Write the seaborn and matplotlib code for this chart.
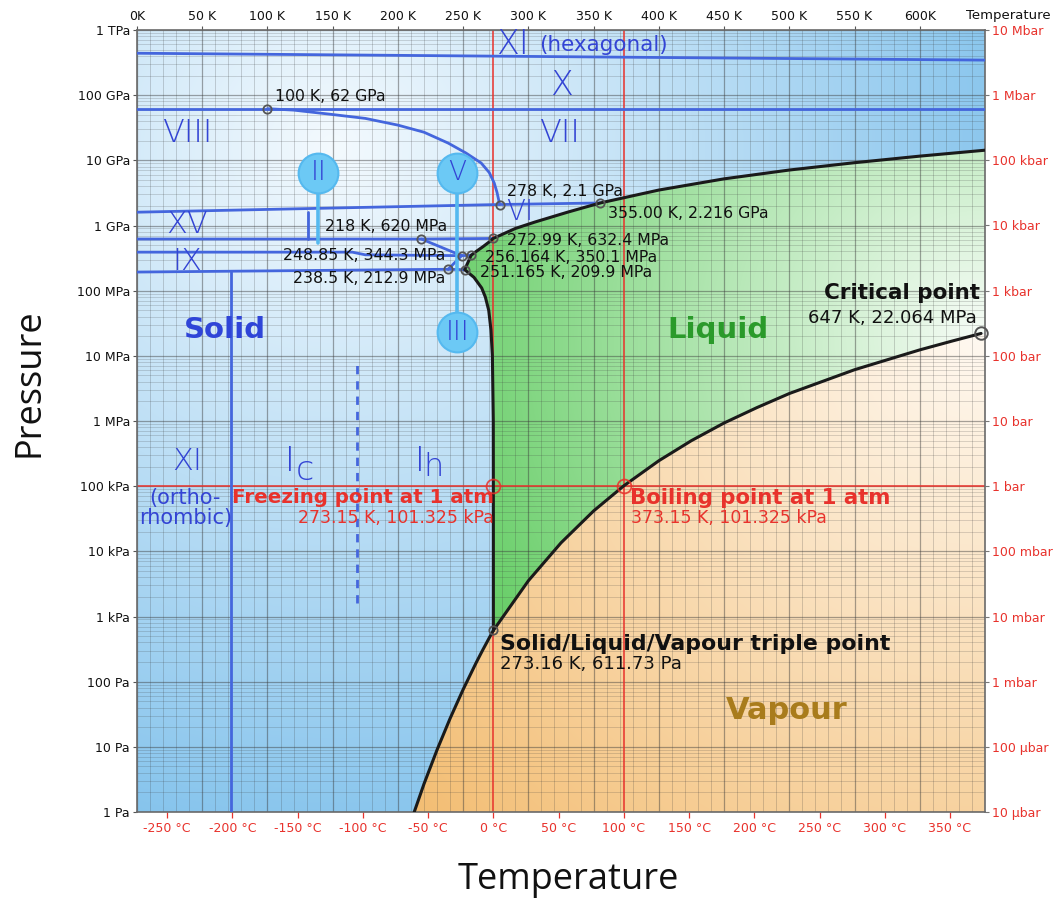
import numpy as np
import matplotlib
matplotlib.use("Agg")
import matplotlib.pyplot as plt
import seaborn as sns
from matplotlib.patches import Polygon
from matplotlib.colors import to_rgb
from matplotlib.ticker import FixedLocator, MultipleLocator, LogLocator, NullLocator

sns.set_theme(style="white")
plt.rcParams["font.family"] = ["DejaVu Sans"]

# ---------------- phase boundaries (temperature in K, pressure in Pa) ----------------
# solid / vapour (sublimation)
sub_T = [212.5, 220, 230, 240, 250, 260, 265, 270, 273.16]
sub_P = [1.0, 2.7, 9.0, 27.3, 76.0, 196, 306, 470, 611.73]

# liquid / vapour (vaporisation) up to the critical point
vap_T = [273.16, 300, 325, 350, 373.15, 400, 425, 450, 475, 500, 550, 600, 625, 647]
vap_P = [611.73, 3537, 13500, 41680, 101325, 245600, 5.0e5, 9.32e5, 1.6e6,
         2.64e6, 6.12e6, 12.34e6, 16.9e6, 22.064e6]

# solid / liquid (melting) : Ih, III, V, VI, VII
melt_T = [273.16, 273.15, 273.1, 272.4, 271.3, 269.6, 267.0, 264.2, 258.3, 251.165,
          256.164, 260, 265, 270, 272.99, 290, 305, 330, 355,
          400, 450, 500, 550, 600, 650]
melt_P = [611.73, 101325, 1e6, 1e7, 2.5e7, 5e7, 8e7, 1.1e8, 1.6e8, 2.099e8,
          3.501e8, 4.0e8, 4.7e8, 5.6e8, 6.324e8, 9.0e8, 1.13e9, 1.6e9, 2.216e9,
          3.5e9, 5.2e9, 7.1e9, 9.2e9, 11.6e9, 14.3e9]

# solid / solid boundaries
xi_x_T, xi_x_P = [0, 650], [4.4e11, 3.45e11]
x_vii_T, x_vii_P = [0, 650], [6.2e10, 6.2e10]
viii_vii_T = [100, 120, 148, 175, 200, 220, 238.5, 252, 263.8, 270, 273.8, 276, 278]
viii_vii_P = [6.2e10, 5.9e10, 5.1e10, 4.4e10, 3.47e10, 2.7e10, 1.84e10, 1.3e10,
              9.1e9, 6.5e9, 4.5e9, 3.2e9, 2.1e9]
viii_vi_T, viii_vi_P = [0, 278, 355], [1.6e9, 2.1e9, 2.216e9]
xv_vi_T, xv_vi_P = [0, 218, 272.99], [6.2e8, 6.2e8, 6.324e8]
xv_edge_T, xv_edge_P = [131, 131], [6.2e8, 1.62e9]
ix_ii_T, ix_ii_P = [0, 165, 175, 248.85], [3.9e8, 3.9e8, 3.55e8, 3.443e8]
ii_v_T, ii_v_P = [218, 248.85], [6.2e8, 3.443e8]
ii_iii_T, ii_iii_P = [238.5, 248.85], [2.129e8, 3.443e8]
iii_v_T, iii_v_P = [248.85, 256.164], [3.443e8, 3.501e8]
ih_iii_T, ih_iii_P = [238.5, 251.165], [2.129e8, 2.099e8]
ih_ii_T, ih_ii_P = [0, 238.5], [1.93e8, 2.129e8]
xi_ih_T, xi_ih_P = [72, 72], [1.0, 1.93e8]
ic_ih_T, ic_ih_P = [169, 169], [1.6e3, 7.8e6]

# triple points and special points
tp_T = [100, 278, 355, 218, 272.99, 248.85, 256.164, 238.5, 251.165, 273.16]
tp_P = [6.2e10, 2.1e9, 2.216e9, 6.2e8, 6.324e8, 3.443e8, 3.501e8, 2.129e8, 2.099e8, 611.73]
crit_T, crit_P = 647, 22.064e6
atm_P = 101325
freeze_T, boil_T = 273.15, 373.15

# phase bubbles (II, V, III)
bubble_names = ["II", "V", "III"]
bubble_T = [139, 245.4, 245.4]
bubble_P = [6.4e9, 6.4e9, 2.32e7]
stem_T = [[139, 139], [245.4, 245.4], [245.4, 245.4]]
stem_P = [[3.1e9, 5.4e8], [3.1e9, 3.0e8], [3.0e8, 4.7e7]]

# axis ticks
kelvin_ticks = list(range(0, 601, 50))
kelvin_labels = ["0K"] + [f"{k} K" for k in range(50, 600, 50)] + ["600K"]
celsius_ticks = list(range(-250, 351, 50))
pa_ticks = [10.0 ** e for e in range(0, 13)]
pa_labels = ["1 Pa", "10 Pa", "100 Pa", "1 kPa", "10 kPa", "100 kPa", "1 MPa",
             "10 MPa", "100 MPa", "1 GPa", "10 GPa", "100 GPa", "1 TPa"]
bar_ticks = [10.0 ** e for e in range(-5, 8)]
bar_labels = ["10 µbar", "100 µbar", "1 mbar", "10 mbar", "100 mbar", "1 bar",
              "10 bar", "100 bar", "1 kbar", "10 kbar", "100 kbar", "1 Mbar", "10 Mbar"]

T_MAX = 650
P_MIN, P_MAX = 1.0, 1e12

BLUE = "#4466dd"
TXT_BLUE = "#3344d4"
RED = "#e8322c"
BLACK = "#1a1a1a"
GRID = "#3a3a3a"

fig = plt.figure(figsize=(10.61, 9.05), dpi=100)
ax = fig.add_axes([137 / 1061, 93 / 905, 848 / 1061, 782 / 905])
ax.set_xlim(0, T_MAX)
ax.set_yscale("log")
ax.set_ylim(P_MIN, P_MAX)
ax.set_autoscale_on(False)


def radial_fill(center, radius, inner, outer, zorder, clip=None):
    """Radial colour gradient painted over the axes, optionally clipped to a patch."""
    bb = ax.get_window_extent()
    wpx, hpx = bb.width, bb.height
    nx, ny = 440, 400
    U, V = np.meshgrid(np.linspace(0, 1, nx), np.linspace(0, 1, ny))
    cu, cv = ax.transAxes.inverted().transform(ax.transData.transform(center))
    d = np.hypot((U - cu) * wpx, (V - cv) * hpx) / radius
    t = np.clip(d, 0, 1)[..., None]
    img = np.array(to_rgb(inner)) * (1 - t) + np.array(to_rgb(outer)) * t
    im = ax.imshow(img, extent=(0, 1, 0, 1), transform=ax.transAxes, origin="lower",
                   aspect="auto", interpolation="bilinear", zorder=zorder)
    if clip is not None:
        im.set_clip_path(clip)
    return im


# solid background
radial_fill((150, 10 ** 10.2), 720, "#f4fafe", "#82c2ec", 0.1)

# liquid region
liq_T = list(melt_T) + [700, 700] + vap_T[::-1]
liq_P = list(melt_P) + [melt_P[-1], crit_P] + vap_P[::-1]
liq_poly = Polygon(np.column_stack([liq_T, liq_P]), closed=True, transform=ax.transData)
radial_fill((crit_T, crit_P), 600, "#f6fcf6", "#5ecb5e", 0.2, clip=liq_poly)

# vapour region
vap_reg_T = list(sub_T) + vap_T[1:] + [700, 700, sub_T[0]]
vap_reg_P = list(sub_P) + vap_P[1:] + [crit_P, 0.5, 0.5]
vap_poly = Polygon(np.column_stack([vap_reg_T, vap_reg_P]), closed=True, transform=ax.transData)
radial_fill((crit_T, crit_P), 760, "#fff9f1", "#f3bc70", 0.3, clip=vap_poly)

ax.set_xlim(0, T_MAX)
ax.set_ylim(P_MIN, P_MAX)

# fine temperature grid every 10 K
fine_T = MultipleLocator(10).tick_values(0, T_MAX)
fine_T = [t for t in fine_T if 0 < t < T_MAX and t % 50 != 0]
ax.vlines(fine_T, P_MIN, P_MAX, colors=GRID, alpha=0.25, lw=0.6, zorder=1.5)

# red 1-atm reference lines
ax.axvline(freeze_T, color=RED, lw=1.3, alpha=0.85, zorder=2)
ax.axvline(boil_T, color=RED, lw=1.3, alpha=0.85, zorder=2)
ax.axhline(atm_P, color=RED, lw=1.3, alpha=0.85, zorder=2)

# solid-solid boundaries
blue_lines = [
    (xi_x_T, xi_x_P), (x_vii_T, x_vii_P), (viii_vii_T, viii_vii_P),
    (viii_vi_T, viii_vi_P), (xv_vi_T, xv_vi_P), (xv_edge_T, xv_edge_P),
    (ix_ii_T, ix_ii_P), (ii_v_T, ii_v_P), (ii_iii_T, ii_iii_P),
    (iii_v_T, iii_v_P), (ih_iii_T, ih_iii_P), (ih_ii_T, ih_ii_P),
    (xi_ih_T, xi_ih_P),
]
for xs, ys in blue_lines:
    sns.lineplot(x=xs, y=ys, ax=ax, sort=False, estimator=None, color=BLUE,
                 lw=2.0, zorder=3)
sns.lineplot(x=ic_ih_T, y=ic_ih_P, ax=ax, sort=False, estimator=None, color=BLUE,
             lw=2.0, zorder=3, linestyle=(0, (3, 2.5)))

# phase bubbles
for name, bt, bp, sx, sy in zip(bubble_names, bubble_T, bubble_P, stem_T, stem_P):
    sns.lineplot(x=sx, y=sy, ax=ax, sort=False, estimator=None, color="#55b9ef",
                 lw=2.6, zorder=3.5)
    ax.scatter([bt], [bp], s=820, facecolor="#6cc9f5", edgecolor="#55b9ef",
               linewidth=1.5, zorder=4)
    ax.text(bt, bp, name, ha="center", va="center", fontsize=19, color=TXT_BLUE,
            fontweight="light", zorder=5)

# liquid / vapour / solid boundaries
for xs, ys in [(sub_T, sub_P), (vap_T, vap_P), (melt_T, melt_P)]:
    sns.lineplot(x=xs, y=ys, ax=ax, sort=False, estimator=None, color=BLACK,
                 lw=2.2, zorder=4)

# markers
ax.plot(tp_T, tp_P, ls="none", marker="o", ms=6, mfc="none", mec="#555555",
        mew=1.3, zorder=6)
ax.plot([crit_T], [crit_P], ls="none", marker="o", ms=9, mfc="none", mec="#555555",
        mew=1.4, zorder=6, clip_on=False)
ax.plot([freeze_T, boil_T], [atm_P, atm_P], ls="none", marker="o", ms=10, mfc="none",
        mec=RED, mew=1.3, alpha=0.85, zorder=6)

ax.set_xlabel("")
ax.set_ylabel("")

# ---------------- text ----------------
def lbl(x, y, s, **kw):
    kw.setdefault("zorder", 7)
    ax.text(x, y, s, **kw)

roman = dict(color=TXT_BLUE, fontweight="light", ha="center", va="center")
lbl(288, 5.9e11, "XI", fontsize=24, **roman)
lbl(308, 5.9e11, "(hexagonal)", fontsize=15.5, color=TXT_BLUE, ha="left", va="center", zorder=7)
lbl(325, 1.43e11, "X", fontsize=24, **roman)
lbl(38.3, 2.6e10, "VIII", fontsize=23, **roman)
lbl(323.5, 2.6e10, "VII", fontsize=23, **roman)
lbl(293.6, 1.6e9, "VI", fontsize=20, **roman)
lbl(38.3, 1.05e9, "XV", fontsize=22, **roman)
lbl(38.3, 2.85e8, "IX", fontsize=22, **roman)
lbl(38.3, 2.35e5, "XI", fontsize=22, **roman)
lbl(37.0, 4.6e4, "(ortho-\nrhombic)", fontsize=15, color=TXT_BLUE, ha="center",
    va="center", linespacing=1.0)
lbl(117.3, 2.35e5, "I", fontsize=24, **roman)
lbl(128.8, 1.71e5, "c", fontsize=24, **roman)
lbl(216.9, 2.35e5, "I", fontsize=24, **roman)
lbl(227.6, 1.97e5, "h", fontsize=23, **roman)

lbl(67.5, 2.49e7, "Solid", fontsize=21, fontweight="bold", color="#2f45d8",
    ha="center", va="center")
lbl(445, 2.49e7, "Liquid", fontsize=21, fontweight="bold", color="#2a9a2a",
    ha="center", va="center")
lbl(498, 36.7, "Vapour", fontsize=22, fontweight="semibold", color="#a97c1c",
    ha="center", va="center")

small = dict(fontsize=11.3, color="#111111", va="center", ha="left")
lbl(105.8, 9.4e10, "100 K, 62 GPa", **small)
lbl(283.6, 3.38e9, "278 K, 2.1 GPa", **small)
lbl(361, 1.55e9, "355.00 K, 2.216 GPa", **small)
lbl(144, 9.8e8, "218 K, 620 MPa", **small)
lbl(283.6, 5.98e8, "272.99 K, 632.4 MPa", **small)
lbl(111.9, 3.52e8, "248.85 K, 344.3 MPa", **small)
lbl(266.7, 3.28e8, "256.164 K, 350.1 MPa", **small)
lbl(119.6, 1.56e8, "238.5 K, 212.9 MPa", **small)
lbl(263, 1.93e8, "251.165 K, 209.9 MPa", **small)

lbl(646, 9.2e7, "Critical point", fontsize=15.5, fontweight="bold", color="#111111",
    ha="right", va="center")
lbl(644, 3.8e7, "647 K, 22.064 MPa", fontsize=13, color="#111111", ha="right", va="center")

lbl(273.5, 6.8e4, "Freezing point at 1 atm", fontsize=14.3, fontweight="bold", color=RED,
    ha="right", va="center")
lbl(273.5, 3.25e4, "273.15 K, 101.325 kPa", fontsize=12.5, color=RED, ha="right", va="center")
lbl(378, 6.5e4, "Boiling point at 1 atm", fontsize=15.3, fontweight="bold", color=RED,
    ha="left", va="center")
lbl(379, 3.25e4, "373.15 K, 101.325 kPa", fontsize=12.5, color=RED, ha="left", va="center")

lbl(278.2, 378, "Solid/Liquid/Vapour triple point", fontsize=15.8, fontweight="bold",
    color="#111111", ha="left", va="center")
lbl(278.2, 187, "273.16 K, 611.73 Pa", fontsize=13, color="#111111", ha="left", va="center")

# ---------------- axes ----------------
ax.xaxis.tick_top()
ax.set_xticks(kelvin_ticks)
ax.set_xticklabels(kelvin_labels)
ax.tick_params(axis="x", which="major", top=True, bottom=False, length=3, width=0.8,
               color="#555555", labelsize=9, pad=2, labelcolor="#111111")
ax.set_yticks(pa_ticks)
ax.set_yticklabels(pa_labels)
ax.yaxis.set_minor_locator(LogLocator(base=10, subs=np.arange(2, 10), numticks=200))
ax.tick_params(axis="y", which="major", left=True, right=False, length=3, width=0.8,
               color="#555555", labelsize=9, pad=2, labelcolor="#111111")
ax.tick_params(axis="y", which="minor", length=0)

# grid drawn over the colour fields
ax.set_axisbelow("line")
ax.grid(True, which="major", axis="both", color=GRID, alpha=0.45, lw=0.9)
ax.grid(True, which="minor", axis="y", color=GRID, alpha=0.22, lw=0.6)

secx = ax.secondary_xaxis("bottom", functions=(lambda k: k - 273.15, lambda c: c + 273.15))
secx.set_xticks(celsius_ticks)
secx.set_xticklabels([f"{c} °C" for c in celsius_ticks])
secx.xaxis.set_minor_locator(NullLocator())
secx.tick_params(axis="x", length=4, width=0.9, color=RED, labelcolor=RED,
                 labelsize=9, pad=3)
secx.spines["bottom"].set_visible(False)

secy = ax.secondary_yaxis("right", functions=(lambda p: p / 1e5, lambda b: b * 1e5))
secy.set_yticks(bar_ticks)
secy.set_yticklabels(bar_labels)
secy.yaxis.set_minor_locator(NullLocator())
secy.tick_params(axis="y", length=3, width=0.8, color="#777777", labelcolor=RED,
                 labelsize=9, pad=2)
secy.spines["right"].set_visible(False)

for sp in ax.spines.values():
    sp.set_color("#6a6a6a")
    sp.set_linewidth(1.2)
    sp.set_visible(True)

fig.text(1008 / 1061, 1 - 15 / 905, "Temperature", fontsize=9.5, color="#111111",
         ha="center", va="center")
fig.text(30 / 1061, 1 - 383 / 905, "Pressure", fontsize=26, rotation=90,
         ha="center", va="center", family=["Open Sans", "DejaVu Sans"], color="#111111")
fig.text(568 / 1061, 1 - 880 / 905, "Temperature", fontsize=26,
         ha="center", va="center", family=["Open Sans", "DejaVu Sans"], color="#111111")

fig.savefig("out.png", dpi=100, facecolor="white")
